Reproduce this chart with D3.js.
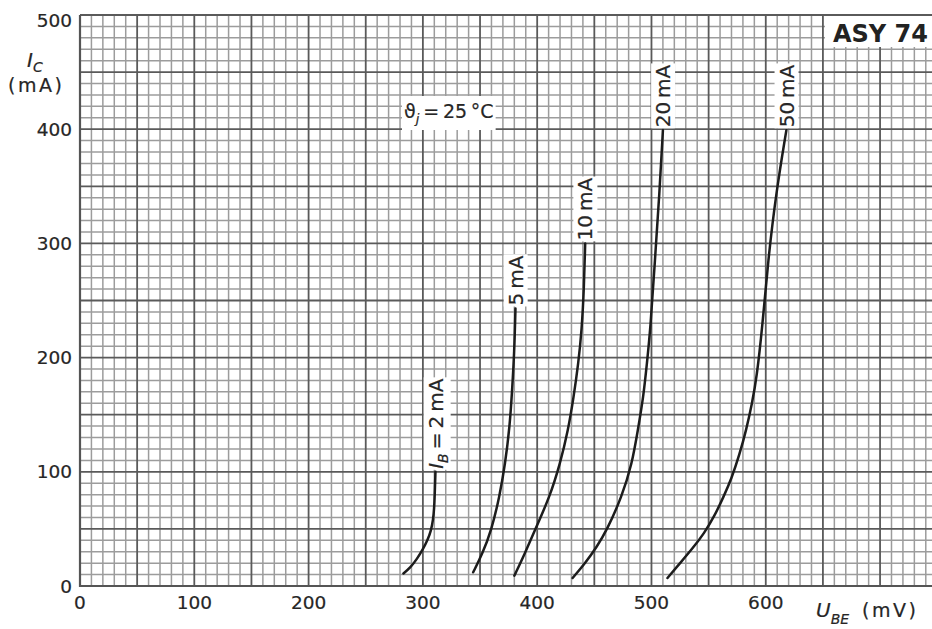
<!doctype html>
<html lang="en">
<head>
  <meta charset="utf-8">
  <title>ASY 74 input characteristics</title>
  <style>
    body { margin: 0; background: #fff; }
    text { font-family: 'DejaVu Sans', sans-serif; fill: #262626; stroke: #262626; stroke-width: 0.2px; }
  </style>
</head>
<body>
  <svg id="chart" width="932" height="629"></svg>

<script src="https://cdn.jsdelivr.net/npm/d3@7"></script>
<script>
  //
  // Data (U_BE in mV, I_C in mA)
  //

  var xTicks = [0, 100, 200, 300, 400, 500, 600]
  var yTicks = [0, 100, 200, 300, 400, 500]
  var curveLabels = ['2 mA', '5 mA', '10 mA', '20 mA', '50 mA']

  var ib2 = [[283, 11], [289, 16], [295, 24], [300, 32], [304, 40], [307, 48], [309, 58], [310, 70], [310.5, 84], [311, 100]]
  var ib5 = [[344, 12], [352, 28], [360, 49], [367, 78], [372, 107], [376, 140], [378, 170], [380, 205], [381, 243]]
  var ib10 = [[380, 9], [389, 28], [398, 49], [411, 78], [420, 107], [427, 136], [432, 166], [436, 195], [439, 224], [441, 262], [442, 300]]
  var ib20 = [[431, 7], [442, 20], [452, 34], [461, 49], [474, 78], [483, 107], [488, 136], [493, 166], [496, 195], [499, 224], [503, 285], [507, 344], [510, 399]]
  var ib50 = [[514, 7], [525, 20], [536, 33], [546, 46], [555, 61], [563, 78], [570, 94], [577, 115], [583, 137], [588, 160], [592, 182], [597, 227], [602, 285], [609, 344], [618, 399]]

  var curves = [ib2, ib5, ib10, ib20, ib50]

  //
  // Setup
  //

  var svg = d3.select('#chart')
  var x = d3.scaleLinear().domain([0, 745]).range([80, 931.5])
  var y = d3.scaleLinear().domain([0, 500]).range([586, 15])
  var colorMinor = '#9c9c9c'
  var colorMajor = '#5a5a5a'
  var colorCurve = '#1c1c1c'

  // grid paper: 10 mV / 10 mA cells, heavier every 50
  var gx = d3.range(0, 746, 10)
  var gy = d3.range(0, 501, 10)
  var grid = svg.append('g')

  function gridLines(major) {
    var w = major ? 1.8 : 1.5
    var c = major ? colorMajor : colorMinor
    grid.selectAll(null)
      .data(gx.filter(function (d) { return (d % 50 === 0) === major }))
      .enter().append('line')
      .attr('x1', function (d) { return x(d) }).attr('x2', function (d) { return x(d) })
      .attr('y1', y(0)).attr('y2', y(500))
      .attr('stroke', c).attr('stroke-width', w)
    grid.selectAll(null)
      .data(gy.filter(function (d) { return (d % 50 === 0) === major }))
      .enter().append('line')
      .attr('x1', x(0)).attr('x2', 932)
      .attr('y1', function (d) { return y(d) }).attr('y2', function (d) { return y(d) })
      .attr('stroke', c).attr('stroke-width', w)
  }
  gridLines(false)
  gridLines(true)

  // axis edges a bit heavier
  svg.append('line').attr('x1', x(0)).attr('x2', x(0)).attr('y1', y(0) + 1).attr('y2', y(500))
    .attr('stroke', '#555').attr('stroke-width', 2.2)
  svg.append('line').attr('x1', x(0)).attr('x2', 932).attr('y1', y(0)).attr('y2', y(0))
    .attr('stroke', '#555').attr('stroke-width', 2.2)

  //
  // Curves
  //

  var line = d3.line()
    .x(function (d) { return x(d[0]) })
    .y(function (d) { return y(d[1]) })
    .curve(d3.curveBasis)

  svg.selectAll('path.curve')
    .data(curves)
    .enter().append('path')
    .attr('class', 'curve')
    .attr('d', line)
    .attr('fill', 'none')
    .attr('stroke', colorCurve)
    .attr('stroke-width', 2.5)
    .attr('stroke-linecap', 'round')

  // rotated labels at the top end of each curve, on white
  function boxed(g, t, padX, padY) {
    var b = t.node().getBBox()
    g.insert('rect', 'text')
      .attr('x', b.x - padX).attr('y', b.y - padY)
      .attr('width', b.width + 2 * padX).attr('height', b.height + 2 * padY)
      .attr('fill', '#fff')
  }

  curves.forEach(function (pts, i) {
    var top = pts[pts.length - 1]
    var g = svg.append('g')
      .attr('transform', 'translate(' + x(top[0]) + ',' + (y(top[1]) - 3) + ') rotate(-90)')
    var t = g.append('text').attr('dy', '0.36em').style('font-size', '20px')
    var label = curveLabels[i].replace(' ', '\u2009')
    if (i === 0) {
      t.append('tspan').style('font-style', 'italic').text('I')
      t.append('tspan').attr('dy', 5).style('font-size', '14px').style('font-style', 'italic').text('B')
      t.append('tspan').attr('dy', -5).text('\u2009=\u2009' + label)
    } else {
      t.text(label)
    }
    boxed(g, t, 1, 0)
  })

  //
  // Annotations
  //

  var temp = svg.append('g')
  var tt = temp.append('text').attr('x', 404).attr('y', 118).style('font-size', '19px')
  tt.append('tspan').text('\u03d1')
  tt.append('tspan').attr('dy', 5).style('font-size', '13px').style('font-style', 'italic').text('j')
  tt.append('tspan').attr('dy', -5).text('\u2009=\u200925\u2009\u00b0C')
  boxed(temp, tt, 2, 4)

  svg.append('rect').attr('x', 825).attr('y', 16).attr('width', 107).attr('height', 31).attr('fill', '#fff')
  svg.append('text').attr('x', 833).attr('y', 42)
    .style('font-size', '24px').style('font-weight', 'bold').style('fill', '#222').style('stroke', 'none')
    .text('ASY 74')

  //
  // Tick labels and titles
  //

  svg.selectAll('text.xt')
    .data(xTicks)
    .enter().append('text')
    .attr('class', 'xt')
    .attr('x', function (d) { return x(d) })
    .attr('y', 609)
    .attr('text-anchor', 'middle')
    .style('font-size', '18.5px')
    .text(function (d) { return d })

  svg.selectAll('text.yt')
    .data(yTicks)
    .enter().append('text')
    .attr('class', 'yt')
    .attr('x', 72)
    .attr('y', function (d) { return d === 500 ? 27 : y(d) + 6.5 })
    .attr('text-anchor', 'end')
    .style('font-size', '18.5px')
    .text(function (d) { return d })

  var yt = svg.append('text').attr('x', 27).attr('y', 67).style('font-size', '20px')
  yt.append('tspan').style('font-style', 'italic').text('I')
  yt.append('tspan').attr('dy', 5).style('font-size', '14px').style('font-style', 'italic').text('C')
  svg.append('text').attr('x', 8).attr('y', 92).style('font-size', '19px').style('letter-spacing', '2.5px').text('(mA)')

  var xt = svg.append('text').attr('x', 816).attr('y', 617).style('font-size', '20px')
  xt.append('tspan').style('font-style', 'italic').text('U')
  xt.append('tspan').attr('dy', 7).style('font-size', '14px').style('font-style', 'italic').text('BE')
  svg.append('text').attr('x', 862).attr('y', 617).style('font-size', '19px').style('letter-spacing', '2.5px').text('(mV)')
</script>
</body>
</html>
